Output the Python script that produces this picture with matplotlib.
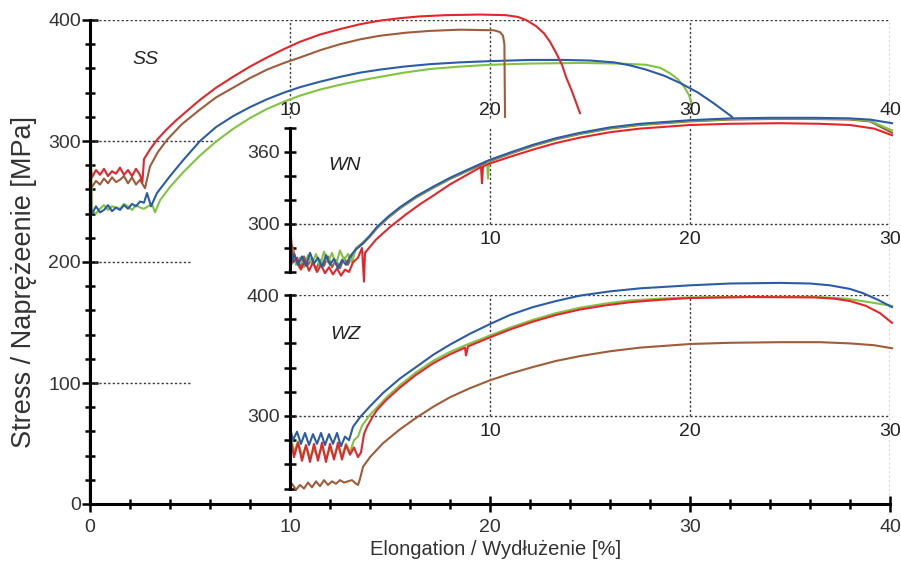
import matplotlib.pyplot as plt
from matplotlib.ticker import MultipleLocator, FixedLocator

plt.rcParams['font.family'] = ['Liberation Sans', 'DejaVu Sans']

red = '#e3262c'
brown = '#9e5c3a'
blue = '#2d5ca6'
green = '#82c341'

# SS - main panel (x in %, y in MPa)
ss_red_x = [0, 0, 0.1, 0.3, 0.5, 0.7, 0.9, 1.1, 1.3, 1.5, 1.7, 1.9, 2.1, 2.3, 2.5, 2.62, 2.7, 3.0, 3.35,
            3.8, 4.3, 5.0, 5.5, 6.3, 7.15, 8, 8.85, 9.7, 10.5, 11.5, 12.5, 13.5, 14.5, 15.5, 16.5, 17.8,
            19.5, 20.8, 21.4, 21.8, 22.3, 22.7, 23.0, 23.3, 23.6, 23.8, 24.1, 24.5]
ss_red_y = [0, 280, 270, 276, 272, 277, 271, 275, 273, 278, 272, 276, 271, 277, 272, 266, 285, 293, 301,
            309, 317, 327, 334, 344, 353, 361.5, 369, 376, 382, 388, 392.5, 396.5, 399.5, 401.5, 403, 404,
            404.5, 404, 402.5, 400, 395, 389, 382, 373, 363, 353, 341, 323]

ss_brown_x = [0, 0, 0.1, 0.3, 0.5, 0.7, 0.9, 1.1, 1.3, 1.5, 1.7, 1.9, 2.1, 2.3, 2.5, 2.75, 3.0, 3.4,
              3.85, 4.6, 5.5, 6.3, 7.15, 8, 8.85, 9.7, 10.5, 11.5, 12.5, 13.5, 14.5, 15.8, 17, 18.5,
              20.2, 20.5, 20.65, 20.72, 20.75]
ss_brown_y = [0, 268, 262, 267, 264, 269, 265, 270, 266, 268, 271, 265, 270, 264, 268, 261, 279, 291,
              301, 314, 326, 336, 344, 352, 359, 364.5, 369, 375, 380, 384, 387, 389.5, 391, 392,
              391.5, 390, 387, 380, 320]

ss_blue_x = [0, 0, 0.1, 0.3, 0.5, 0.7, 0.9, 1.1, 1.3, 1.5, 1.7, 1.9, 2.1, 2.3, 2.5, 2.7, 2.85, 3.05, 3.35,
             4.0, 4.65, 5.5, 6.3, 7.15, 8, 8.85, 9.7, 10.5, 11.5, 12.5, 13.5, 14.5, 15.7, 17, 18.5, 20,
             22, 23.7, 25, 26.2, 27, 27.8, 28.7, 29.5, 30.4, 31.2, 32.1]
ss_blue_y = [0, 248, 240, 246, 241, 243, 247, 242, 245, 243, 247, 244, 248, 246, 250, 249, 257, 246, 257,
             271, 284, 300, 311.5, 320.5, 328, 334.5, 340, 344.5, 349, 353, 356.5, 359, 361.5, 363.5, 365,
             366, 367, 367, 366.5, 365, 362.5, 359, 354, 348, 340, 331, 320]

ss_green_x = [0, 0, 0.05, 0.1, 0.3, 0.5, 0.7, 0.9, 1.1, 1.3, 1.5, 1.7, 1.9, 2.1, 2.3, 2.5, 2.7, 2.9, 3.1,
              3.25, 3.5, 4.0, 4.65, 5.5, 6.3, 7.15, 8, 8.85, 9.7, 10.5, 11.5, 12.5, 13.5, 14.5, 15.7, 17,
              18.5, 20, 22, 24.5, 26.5, 27.8, 28.5, 29, 29.4, 29.7, 29.95, 30.1]
ss_green_y = [0, 303, 300, 242, 240, 244, 247, 243, 246, 245, 244, 248, 246, 243, 247, 245, 244, 246, 248,
              241, 251, 262, 274, 288, 299.5, 310, 319, 326.5, 332.5, 337.5, 342.5, 346.5, 350, 353, 356.5,
              359.5, 361.5, 363, 364, 364.5, 364, 363, 360.5, 356, 351, 345, 338, 330]

# WN - upper inset (x 0-30 %, y MPa)
wn_brown_x = [0, 0.1, 0.3, 0.5, 0.7, 0.9, 1.1, 1.3, 1.5, 1.7, 1.9, 2.1, 2.3, 2.5, 2.7, 2.9, 3.1, 3.3, 3.6,
              4.0, 4.35, 4.9, 5.5, 6.3, 7.15, 8, 8.85, 10, 11, 12.15, 13.3, 14.5, 16, 17.5, 20, 22, 24,
              26.2, 28, 29, 30.1]
wn_brown_y = [265, 282, 270, 263, 273, 266, 271, 262, 270, 265, 273, 264, 270, 263, 272, 266, 274, 279, 283,
              289.5, 296.5, 305, 313, 322, 330, 337.5, 344, 352.5, 358.5, 365, 370.5, 375, 379.5, 382.5,
              385.5, 387, 387.5, 387.5, 387, 385.5, 376]

wn_green_x = [0, 0.1, 0.3, 0.5, 0.7, 0.9, 1.1, 1.3, 1.5, 1.7, 1.9, 2.1, 2.3, 2.5, 2.7, 2.9, 3.1, 3.3, 3.6,
              4.0, 4.35, 4.9, 5.5, 6.3, 7.15, 8, 8.85, 9.85, 9.9, 9.95, 11, 12.15, 13.3, 14.5, 16, 17.5,
              20, 22, 24, 26.2, 28, 29, 30.1]
wn_green_y = [268, 280, 266, 272, 264, 274, 267, 275, 265, 277, 268, 276, 266, 278, 270, 275, 268, 280, 284,
              290, 297, 305.5, 313.5, 322.5, 330.5, 338, 344.5, 352.5, 338, 353, 359, 365.5, 371, 375.5,
              380, 383, 386, 387.5, 388, 388, 387.5, 386, 378]

wn_red_x = [0, 0.05, 0.15, 0.35, 0.55, 0.75, 0.95, 1.15, 1.35, 1.55, 1.75, 1.95, 2.15, 2.35, 2.55, 2.75,
            2.95, 3.15, 3.4, 3.6, 3.7, 3.75, 3.85, 4.3, 5, 5.8, 6.5, 7.15, 8, 8.85, 9.55, 9.6, 9.65, 10,
            11, 12.15, 13.3, 14.5, 16, 17.5, 20, 22, 24.5, 26.5, 28, 29.2, 30.1]
wn_red_y = [262, 289, 268, 272, 262, 270, 261, 268, 260, 266, 259, 264, 258, 263, 257, 262,
            260, 268, 272, 280, 252, 276, 278, 287, 297.5, 308, 316.5, 323.5, 333, 341, 347.5, 334, 348,
            350.5, 356, 362, 367.5, 372, 376.5, 379.5, 382.5, 383.5, 384, 383.5, 382.5, 379.5, 374]

wn_blue_x = [0, 0.2, 0.4, 0.6, 0.8, 1.0, 1.2, 1.4, 1.6, 1.8, 2.0, 2.2, 2.4, 2.6, 2.8, 3.0, 3.3, 3.65,
             4.0, 4.35, 4.9, 5.5, 6.3, 7.15, 8, 8.85, 10, 11, 12.15, 13.3, 14.5, 16, 17.5, 20, 22, 24,
             26.2, 28, 29, 30.1]
wn_blue_y = [262, 275, 266, 273, 265, 276, 267, 272, 264, 274, 266, 271, 263, 270, 266, 273, 279, 284,
             290.5, 297.5, 306, 314, 323, 331, 338.5, 345, 353.5, 359.5, 366, 371.5, 376, 380.5, 383.5,
             386.5, 388, 388.5, 388.5, 388, 387, 384]

# WZ - lower inset (x 0-30 %, y MPa)
wz_brown_x = [0, 0.1, 0.3, 0.5, 0.7, 0.9, 1.1, 1.3, 1.5, 1.7, 1.9, 2.1, 2.3, 2.5, 2.7, 2.9, 3.1, 3.3,
              3.4, 3.5, 3.65, 4.0, 4.65, 5.5, 6.35, 7.2, 8, 9, 10, 11, 12.15, 13.3, 14.5, 16, 17.5, 20,
              22, 24.5, 26.5, 28, 29.2, 30.1]
wz_brown_y = [240, 244, 239, 243, 240, 245, 241, 246, 242, 247, 243, 246, 244, 247, 245, 246, 247, 244,
              243, 248, 258, 266, 277.5, 289, 299, 308, 315.5, 323, 329.5, 335, 340.5, 345.5, 349.5,
              353.5, 356.5, 359.5, 360.5, 361, 361, 360, 358.5, 356]

wz_green_x = [0, 0.05, 0.2, 0.4, 0.6, 0.8, 1.0, 1.2, 1.4, 1.6, 1.8, 2.0, 2.2, 2.4, 2.6, 2.8, 3.0, 3.2,
              3.4, 3.6, 4.0, 4.35, 4.8, 5.5, 6.3, 7.15, 8, 8.85, 10, 11, 12.15, 13.3, 14.5, 15.8, 17,
              18.5, 20, 23, 26.2, 27.8, 29, 30.1]
wz_green_y = [255, 282, 270, 279, 267, 275, 266, 272, 266, 274, 265, 273, 266, 275, 267, 277, 270, 280,
              283, 292, 301, 307, 315, 325.5, 336, 345.5, 353, 359, 366.5, 373, 379.5, 385, 389.5, 393,
              395.5, 397, 398, 398.5, 398.5, 397, 394, 391]

wz_red_x = [0, 0.05, 0.2, 0.4, 0.6, 0.8, 1.0, 1.2, 1.4, 1.6, 1.8, 2.0, 2.2, 2.4, 2.6, 2.8, 3.0, 3.2, 3.4,
            3.55, 3.7, 3.85, 4.1, 4.35, 4.8, 5.5, 6.3, 7.15, 8, 8.75, 8.8, 8.9, 10, 11, 12.15, 13.3,
            14.5, 15.8, 17, 18.5, 20, 23, 26.2, 27.2, 28, 28.8, 29.5, 30.1]
wz_red_y = [250, 280, 266, 278, 263, 276, 262, 277, 263, 278, 262, 277, 264, 278, 264, 276, 268, 274, 266,
            270, 285, 291, 298.5, 305, 313, 323.5, 334, 343.5, 351, 356.5, 350, 357.5, 365, 371.5, 378,
            383.5, 388, 391.5, 394, 396, 397.5, 398.3, 398, 397, 395, 391, 385, 377]

wz_blue_x = [0, 0, 0.15, 0.35, 0.55, 0.75, 0.95, 1.15, 1.35, 1.55, 1.75, 1.95, 2.15, 2.35, 2.55, 2.75,
             2.95, 3.15, 3.5, 4.0, 4.65, 5.5, 6.35, 7.2, 8, 9, 10, 11, 12.15, 13.3, 14.5, 16, 17.5, 20,
             22, 24.5, 26, 27, 28, 28.65, 29.4, 30.1]
wz_blue_y = [240, 290, 280, 287, 277, 286, 276, 285, 277, 286, 276, 285, 277, 286, 275, 283,
             280, 291, 299, 308, 319, 331, 341, 351, 359, 368, 376, 383.5, 390, 395, 399.5, 403, 405.5,
             408, 409.5, 410, 409.5, 408, 405, 401.5, 396, 390]

main_grid_labels = [10, 20, 30, 40]
inset_grid_labels = [10, 20, 30]

W, H = 901, 567
fig = plt.figure(figsize=(W / 100, H / 100), dpi=100)


def px_axes(left, top, right, bottom):
    return fig.add_axes([left / W, (H - bottom) / H, (right - left) / W, (bottom - top) / H])


dot = dict(color='#3a3a3a', linestyle=(0, (1.6, 1.6)), linewidth=1.0)
lw = 1.5
fs = 14

# ---- main SS axes
ax = px_axes(90, 20, 890, 504)
ax.set_xlim(0, 40)
ax.set_ylim(0, 400)
ax.patch.set_visible(False)
for s in ['top', 'right']:
    ax.spines[s].set_visible(False)
for s in ['left', 'bottom']:
    ax.spines[s].set_linewidth(2.2)
ax.xaxis.set_major_locator(MultipleLocator(10))
ax.xaxis.set_minor_locator(MultipleLocator(2))
ax.yaxis.set_major_locator(MultipleLocator(100))
ax.yaxis.set_minor_locator(MultipleLocator(20))
ax.tick_params(which='major', direction='inout', length=11, width=1.8, labelsize=fs, colors='black')
ax.tick_params(which='minor', direction='inout', length=7, width=1.8)
ax.tick_params(axis='y', which='major', pad=1)
ax.tick_params(axis='x', which='major', pad=5)
for lab in ax.get_xticklabels() + ax.get_yticklabels():
    lab.set_color('#333333')

ax.hlines(400, 0, 40, **dot)
ax.hlines(300, 0, 6.4, **dot)
ax.hlines([200, 100], 0, 5, **dot)
ax.vlines([10, 20, 30], 319, 400, **dot)
ax.vlines(40, 0, 400, **dot)
for v in main_grid_labels:
    ax.text(v, 325.5, str(v), ha='center', va='center', fontsize=fs, color='#222222')

ax.plot(ss_green_x, ss_green_y, color=green, lw=lw, clip_on=False)
ax.plot(ss_blue_x, ss_blue_y, color=blue, lw=lw, clip_on=False)
ax.plot(ss_brown_x, ss_brown_y, color=brown, lw=lw, clip_on=False)
ax.plot(ss_red_x, ss_red_y, color=red, lw=lw, clip_on=False)
ax.text(2.75, 367, 'SS', style='italic', fontsize=fs, ha='center', va='center', color='#222222')

ax.set_xlabel('Elongation / Wydłużenie [%]', fontsize=14.5, color='#333333', va='center')
ax.xaxis.set_label_coords(0.5075, -0.095)
ax.set_ylabel('Stress / Naprężeenie [MPa]', fontsize=19.5, color='#333333', va='center')
ax.yaxis.set_label_coords(-0.083, 0.459)


def inset(top, bottom, ylo, yhi, major, minor):
    a = px_axes(290, top, 890, bottom)
    a.set_xlim(0, 30)
    a.set_ylim(ylo, yhi)
    a.patch.set_visible(False)
    for s in ['top', 'right', 'bottom']:
        a.spines[s].set_visible(False)
    a.spines['left'].set_linewidth(2.2)
    a.set_xticks([])
    a.yaxis.set_major_locator(FixedLocator(major))
    a.yaxis.set_minor_locator(FixedLocator(minor))
    a.tick_params(axis='y', which='both', direction='inout', length=9, width=1.8, labelsize=fs, pad=3,
                  labelcolor='#333333')
    return a


# ---- WN inset
wn = inset(128, 272, 260, 380, [300, 360], [260, 280, 320, 340, 380])
wn.hlines(300, 0, 30, **dot)
wn.vlines([10, 20], 300, 380, **dot)
for v in inset_grid_labels:
    wn.text(v, 286.7, str(v), ha='center', va='center', fontsize=fs, color='#222222')
wn.plot(wn_brown_x, wn_brown_y, color=brown, lw=lw, clip_on=False)
wn.plot(wn_green_x, wn_green_y, color=green, lw=lw, clip_on=False)
wn.plot(wn_red_x, wn_red_y, color=red, lw=lw, clip_on=False)
wn.plot(wn_blue_x, wn_blue_y, color=blue, lw=lw, clip_on=False)
wn.text(2.75, 349, 'WN', style='italic', fontsize=fs, ha='center', va='center', color='#222222')

# ---- WZ inset
wz = inset(295, 488.6, 240, 400, [300, 400], [240, 260, 280, 320, 340, 360, 380])
wz.hlines([300, 400], 0, 30, **dot)
wz.vlines([10, 20], 300, 400, **dot)
for v in inset_grid_labels:
    wz.text(v, 287.6, str(v), ha='center', va='center', fontsize=fs, color='#222222')
wz.plot(wz_brown_x, wz_brown_y, color=brown, lw=lw, clip_on=False)
wz.plot(wz_green_x, wz_green_y, color=green, lw=lw, clip_on=False)
wz.plot(wz_red_x, wz_red_y, color=red, lw=lw, clip_on=False)
wz.plot(wz_blue_x, wz_blue_y, color=blue, lw=lw, clip_on=False)
wz.text(2.75, 367, 'WZ', style='italic', fontsize=fs, ha='center', va='center', color='#222222')

fig.savefig('out.png', dpi=100)
